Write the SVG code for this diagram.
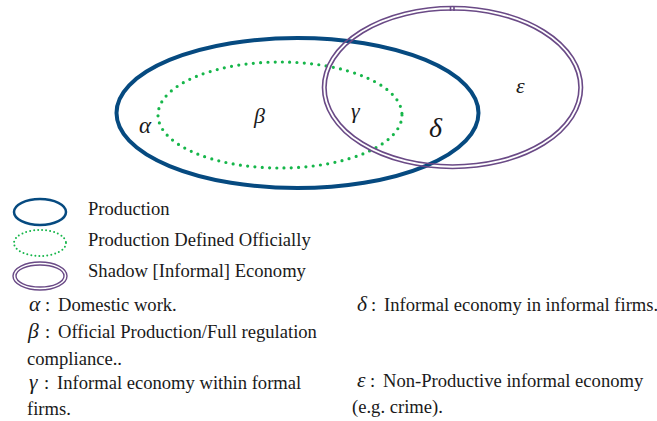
<svg xmlns="http://www.w3.org/2000/svg" width="657" height="421" viewBox="0 0 657 421">
<style>
.t{font-family:"Liberation Serif","Times New Roman",serif;font-size:18.6px;fill:#1a1a1a}
.g{font-family:"Liberation Serif","Times New Roman",serif;font-style:italic;fill:#1a1a1a}
.m{font-size:21.5px}
.prod{fill:none;stroke:#064a80;stroke-width:4}
.off{fill:none;stroke:#16b64a;stroke-width:3.2;stroke-linecap:round;stroke-dasharray:0 7.3}
.sh{fill:none;stroke:#6a4a86;stroke-width:1.6}
</style>
<rect width="657" height="421" fill="#fff"/>
<g id="production"><ellipse class="prod" cx="297.5" cy="113" rx="181" ry="75"/></g>
<g id="official"><ellipse class="off" cx="280" cy="115" rx="122" ry="53"/></g>
<g id="shadow">
<ellipse class="sh" cx="452.5" cy="87.5" rx="130" ry="81"/>
<ellipse class="sh" cx="452.5" cy="87.5" rx="126.5" ry="77.5"/>
<path class="sh" d="M450.5 7 v4 M454 7 v4"/>
</g>
<g id="labels">
<text class="g" x="139" y="133" font-size="23">α</text>
<text class="g" x="254" y="123" font-size="22">β</text>
<text class="g" x="351" y="118" font-size="22">γ</text>
<text class="g" x="429" y="137" font-size="28">δ</text>
<text class="g" x="516" y="93" font-size="22">ε</text>
</g>
<g id="legend">
<ellipse cx="40" cy="212" rx="26" ry="13" fill="none" stroke="#064a80" stroke-width="2.5"/>
<ellipse cx="40" cy="243" rx="26" ry="13" fill="none" stroke="#16b64a" stroke-width="2" stroke-linecap="round" stroke-dasharray="0 4"/>
<ellipse cx="40" cy="276" rx="27" ry="14" fill="none" stroke="#6a4a86" stroke-width="1.4"/>
<ellipse cx="40" cy="276" rx="24" ry="11" fill="none" stroke="#6a4a86" stroke-width="1.4"/>
<text class="t" x="88" y="215">Production</text>
<text class="t" x="88" y="246">Production Defined Officially</text>
<text class="t" x="88" y="277">Shadow [Informal] Economy</text>
</g>
<g id="definitions">
<text class="t" x="29" y="311"><tspan class="g m">α</tspan><tspan x="45">:</tspan><tspan x="58">Domestic work.</tspan></text>
<text class="t" x="28" y="338"><tspan class="g m">β</tspan><tspan x="45">:</tspan><tspan x="58">Official Production/Full regulation</tspan></text>
<text class="t" x="27" y="365">compliance..</text>
<text class="t" x="29" y="389"><tspan class="g m">γ</tspan><tspan x="44">:</tspan><tspan x="57">Informal economy within formal</tspan></text>
<text class="t" x="27" y="415">firms.</text>
<text class="t" x="357" y="311"><tspan class="g m">δ</tspan><tspan x="371">:</tspan><tspan x="384">Informal economy in informal firms.</tspan></text>
<text class="t" x="357" y="387"><tspan class="g m">ε</tspan><tspan x="370">:</tspan><tspan x="383">Non-Productive informal economy</tspan></text>
<text class="t" x="352" y="413">(e.g. crime).</text>
</g>
</svg>
